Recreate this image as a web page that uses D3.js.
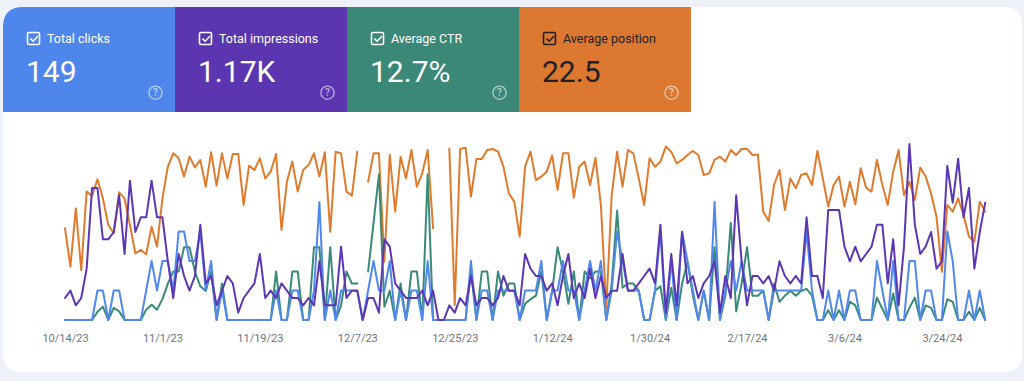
<!DOCTYPE html>
<html><head><meta charset="utf-8">
<script src="https://cdn.jsdelivr.net/npm/d3@7"></script>
<style>
html,body{margin:0;padding:0;background:#eef2f8;}
svg{display:block;font-family:Roboto,"Noto Sans",sans-serif;}
</style></head><body>
<svg id="c" width="1024" height="381"></svg>
<script>
// ---------- data ----------
const startDate = "2023-10-14";
const clicks = [
0,0,0,0,0,0,1,1,0,1,1,0,0,0,0,1,2,1,2,2,1,
3,3,2,2,3,1,2,0,1,0,0,0,0,0,0,0,0,0,1,0,0,1,
1,0,0,1,4,0,1,0,1,1,1,1,0,1,2,1,1,2,0,1,0,1,
1,0,2,0,0,0,0,0,0,0,2,0,1,1,0,1,1,1,1,0,1,
1,1,2,0,1,1,2,1,1,0,1,2,1,2,0,1,3,2,1,1,1,0,
0,1,3,0,2,0,3,2,1,0,1,0,4,0,1,2,1,2,1,1,1,
1,0,1,1,1,1,1,1,3,1,0,0,1,0,1,0,1,1,0,0,0,2,
1,0,2,0,0,2,2,0,1,1,0,0,3,2,0,0,1,0,1,0];
const impressions = [
3,4,2,3,7,18,18,11,11,12,17,9,19,12,14,14,19,14,14,8,3,
9,6,4,6,13,5,6,2,4,6,5,1,3,4,5,9,3,4,3,5,4,3,
3,2,3,2,8,2,2,2,10,3,4,4,0,3,3,1,11,10,5,4,3,3,
3,4,2,4,0,0,2,1,3,2,6,2,3,3,2,3,6,4,4,2,9,
7,6,6,4,5,2,6,9,3,5,3,7,3,6,3,4,4,9,4,4,5,6,
7,5,13,1,9,2,12,5,6,3,5,6,8,1,6,3,17,8,2,6,6,
5,6,4,8,6,5,6,5,14,6,6,3,15,15,15,10,8,10,8,9,10,13,
13,5,11,2,10,24,13,9,10,12,7,8,21,16,22,14,18,7,12,16];
const ctr = [
0,0,0,0,0,0,5.6,9.1,0,8.3,5.9,0,0,0,0,7.1,10.5,7.1,14.3,25,33.3,
33.3,50,50,33.3,23.1,20,33.3,0,25,0,0,0,0,0,0,0,0,0,33.3,0,0,33.3,
33.3,0,0,50,50,0,50,0,10,33.3,25,25,null,33.3,66.7,100,9.1,20,0,25,0,33.3,
33.3,0,100,0,null,null,0,0,0,0,33.3,0,33.3,33.3,0,33.3,16.7,25,25,0,11.1,
14.3,16.7,33.3,0,20,50,33.3,11.1,33.3,0,33.3,28.6,33.3,33.3,0,25,75,22.2,25,25,20,0,
0,20,23.1,0,22.2,0,25,40,16.7,0,20,0,50,0,16.7,66.7,5.9,25,50,16.7,16.7,
20,0,25,12.5,16.7,20,16.7,20,21.4,16.7,0,0,6.7,0,6.7,0,12.5,10,0,0,0,15.4,
7.7,0,18.2,0,0,8.3,15.4,0,10,8.3,0,0,14.3,12.5,0,0,5.6,0,8.3,0];
const position = [
56.9,82.4,43.6,84.7,32.4,35.3,24.2,36.9,54.7,60.2,32.9,36.9,54.7,73.6,71.3,74.2,55.8,69.1,36.9,15.8,6.9,
10.2,22.4,9.1,16.2,11.3,29.1,6.2,28.4,6.9,23.6,7.3,7.3,41.3,15.1,18,10.2,23.6,19.1,7.3,58,25.8,12.4,
32.4,18,14.7,6.9,22.4,6.2,59.1,5.8,6.9,32.4,35.1,5.8,null,25.8,6.9,6.9,79.1,8,45.8,9.1,23.6,4.7,
29.1,20.2,4.7,56.9,null,null,3.6,108,4,3.1,35.8,10.7,10.7,4.7,4,5.8,15.8,33.6,39.1,62.4,15.8,
5.8,24.7,22.4,19.1,8.4,31.3,6.9,6.9,36.4,15.8,12.4,28,9.8,41.3,110,34.7,5.8,29.1,4.7,6.9,23.6,41.3,
10.2,15.8,12.4,2.4,5.8,13.6,11.3,8,5.3,8,21.3,20.2,11.3,9.1,12.4,4.7,8,4,4,8,7.6,
45.8,52,28,18,44.7,23.6,30.2,21.3,20.2,28,5.3,23.6,42.4,28,22.4,42.4,25.8,40.9,16.9,29.8,32.4,11.3,
28,41.3,19.1,4.7,34.7,25.8,38,16.4,22.4,33.6,49.1,85.8,41.3,45.8,36.9,48,62.4,65.8,39.1,45.8];
const tickLabels = ["10/14/23","11/1/23","11/19/23","12/7/23","12/25/23","1/12/24","1/30/24","2/17/24","3/6/24","3/24/24"];
const metricNames = ["Total clicks","Total impressions","Average CTR","Average position"];
const metricValues = ["149","1.17K","12.7%","22.5"];

// ---------- styles ----------
const cardColors = ["#4f86ec","#5b36b0","#3b8778","#dd7831"];
const lineColors = {clicks:"#5288ee", imp:"#5c37b5", ctr:"#3a8a78", pos:"#e07b2e"};
const cardText = ["#ffffff","#ffffff","#ffffff","#202124"];

const svg = d3.select("#c");
const parse = d3.timeParse("%Y-%m-%d");
const t0 = parse(startDate);
const dates = clicks.map((_, i) => d3.timeDay.offset(t0, i));

// white panel
svg.append("rect").attr("x",3).attr("y",7).attr("width",1019).attr("height",365)
  .attr("rx",16).attr("fill","#ffffff");

// metric cards
const cardW = 172, cardX0 = 3, cardY = 7, cardH = 105;
metricNames.forEach((name, i) => {
  const x = cardX0 + i*cardW;
  const g = svg.append("g");
  if (i === 0) {
    const r = 20;
    g.append("path").attr("d",
      `M${x},${cardY+cardH} L${x},${cardY+r} Q${x},${cardY} ${x+r},${cardY} L${x+cardW},${cardY} L${x+cardW},${cardY+cardH} Z`)
      .attr("fill", cardColors[i]);
  } else {
    g.append("rect").attr("x",x).attr("y",cardY).attr("width",cardW).attr("height",cardH)
      .attr("fill", cardColors[i]);
  }
  const tc = cardText[i];
  // checkbox
  g.append("rect").attr("x",x+24.5).attr("y",32.5).attr("width",12).attr("height",12)
    .attr("rx",1.5).attr("fill","none").attr("stroke",tc).attr("stroke-width",1.6);
  g.append("path").attr("d",`M${x+27.5},${38.6} l2.6,2.6 l5,-5.2`)
    .attr("fill","none").attr("stroke",tc).attr("stroke-width",1.6);
  g.append("text").attr("x",x+44).attr("y",42.5).attr("fill",tc)
    .attr("font-size","12.5px").text(name);
  g.append("text").attr("x",x+23).attr("y",82).attr("fill",tc)
    .attr("font-size","30px").text(metricValues[i]);
  // help icon
  const hx = x + cardW - 19.5, hy = 92.7;
  const hc = "rgba(255,255,255,0.6)";
  g.append("circle").attr("cx",hx).attr("cy",hy).attr("r",6.6)
    .attr("fill","none").attr("stroke",hc).attr("stroke-width",1.3);
  g.append("text").attr("x",hx).attr("y",hy+3.6).attr("text-anchor","middle")
    .attr("fill",hc).attr("font-size","10px").attr("font-weight","500").text("?");
});

// ---------- scales ----------
const x = d3.scaleTime().domain([dates[0], dates[dates.length-1]]).range([65, 985.2]);
const yClicks = d3.scaleLinear().domain([0,6]).range([320,143]);
const yImp = d3.scaleLinear().domain([0,24]).range([320,144]);
const yCtr = d3.scaleLinear().domain([0,100]).range([320,174.3]);
const yPos = d3.scaleLinear().domain([0,118]).range([143,320]);

function drawLine(values, yScale, color) {
  const line = d3.line()
    .defined(d => d.v !== null)
    .x(d => x(d.date)).y(d => yScale(d.v));
  svg.append("path")
    .datum(values.map((v, i) => ({date: dates[i], v})))
    .attr("d", line).attr("fill","none").attr("stroke",color)
    .attr("stroke-width",2).attr("stroke-linejoin","round").attr("stroke-linecap","round");
}
drawLine(position, yPos, lineColors.pos);
drawLine(ctr, yCtr, lineColors.ctr);
drawLine(clicks, yClicks, lineColors.clicks);
drawLine(impressions, yImp, lineColors.imp);

// ---------- x axis ----------
const tickDates = tickLabels.map(s => d3.timeParse("%m/%d/%y")(s));
const axis = d3.axisBottom(x).tickValues(tickDates)
  .tickFormat((d, i) => tickLabels[i]).tickSize(0).tickPadding(0);
const ag = svg.append("g").attr("transform","translate(0,334)").call(axis);
ag.select(".domain").remove();
ag.selectAll("text").attr("fill","#70757a").attr("font-size","11px")
  .attr("font-family","Roboto, sans-serif").attr("dy","0.71em");
</script>
</body></html>
